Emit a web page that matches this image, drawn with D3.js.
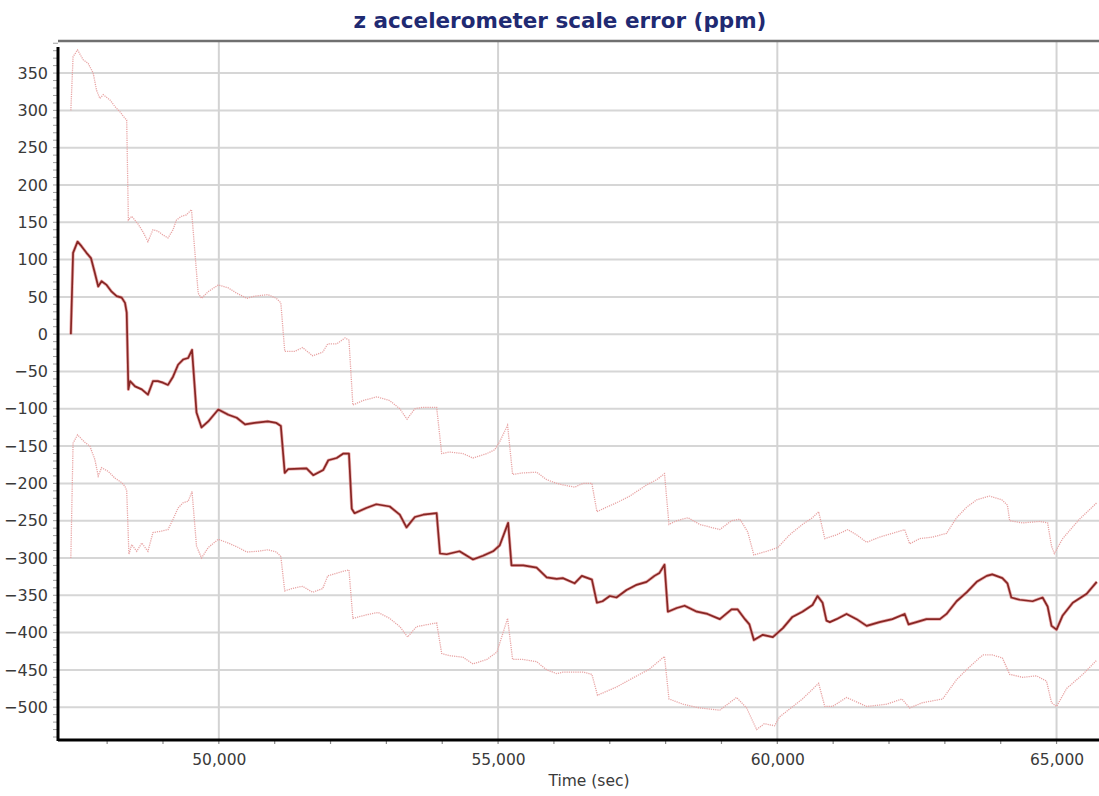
<!DOCTYPE html>
<html>
<head>
<meta charset="utf-8">
<script src="https://cdn.jsdelivr.net/npm/d3@7"></script>
<style>
  html, body { margin: 0; padding: 0; background: #fff; }
  svg { display: block; }
</style>
</head>
<body>
<svg id="chart" width="1099" height="796"></svg>
<script>
// ---------------- DATA ----------------
const titleText = "z accelerometer scale error (ppm)";
const xAxisLabel = "Time (sec)";
const xTickValues = [50000, 55000, 60000, 65000];
const yTickValues = [350, 300, 250, 200, 150, 100, 50, 0, -50, -100, -150, -200, -250, -300, -350, -400, -450, -500];

// estimate (time sec, ppm)
const estimate = [
  [47350,0],[47390,109],[47470,124],[47540,118],[47630,109],[47710,102],[47780,82],[47840,64],[47900,71],[47990,66],
  [48080,57],[48170,51],[48260,49],[48320,42],[48350,29],[48380,-74],[48410,-63],[48500,-70],[48620,-74],[48730,-81],
  [48820,-63],[48910,-63],[49000,-65],[49090,-68],[49180,-57],[49270,-41],[49360,-34],[49450,-32],[49520,-21],[49600,-105],
  [49690,-125],[49810,-117],[49990,-101],[50170,-108],[50320,-112],[50470,-121],[50640,-119],[50880,-117],[51030,-119],[51110,-123],
  [51180,-186],[51240,-181],[51570,-180],[51690,-189],[51870,-182],[51960,-169],[52110,-166],[52230,-160],[52330,-160],[52380,-234],
  [52430,-240],[52640,-233],[52820,-228],[53060,-231],[53240,-242],[53360,-259],[53510,-245],[53660,-242],[53900,-240],[53960,-294],
  [54080,-295],[54310,-291],[54550,-302],[54730,-297],[54910,-291],[55030,-283],[55180,-253],[55240,-310],[55450,-310],[55690,-313],
  [55870,-326],[56050,-328],[56160,-327],[56370,-334],[56500,-324],[56680,-329],[56770,-360],[56870,-358],[57000,-351],[57120,-353],
  [57300,-343],[57480,-336],[57660,-332],[57800,-324],[57890,-320],[57980,-309],[58040,-372],[58200,-367],[58340,-364],[58560,-372],
  [58750,-375],[58970,-382],[59180,-369],[59290,-369],[59420,-382],[59500,-389],[59580,-410],[59740,-403],[59920,-406],[60100,-394],
  [60270,-379],[60450,-372],[60630,-363],[60720,-351],[60810,-360],[60880,-384],[60940,-386],[61060,-382],[61240,-375],[61420,-382],
  [61600,-391],[61830,-386],[62060,-382],[62280,-375],[62350,-389],[62490,-386],[62670,-382],[62910,-382],[63030,-375],[63210,-358],
  [63390,-346],[63570,-332],[63750,-324],[63850,-322],[64030,-327],[64120,-334],[64190,-353],[64340,-356],[64570,-358],[64750,-353],
  [64840,-365],[64910,-391],[65000,-396],[65110,-377],[65290,-360],[65540,-348],[65720,-332]
];

// upper bound (time sec, ppm)
const upperBound = [
  [47350,300],[47390,372],[47470,381],[47570,368],[47660,363],[47750,350],[47810,327],[47870,316],[47930,321],[48050,314],
  [48140,305],[48230,298],[48290,292],[48350,287],[48380,153],[48440,158],[48560,147],[48650,136],[48730,124],[48820,140],
  [48910,138],[49000,133],[49090,129],[49180,140],[49240,153],[49330,158],[49420,160],[49510,167],[49630,55],[49690,48],
  [49810,57],[49990,66],[50170,62],[50320,55],[50500,48],[50640,51],[50880,53],[51030,48],[51110,42],[51180,-23],
  [51360,-23],[51500,-18],[51680,-29],[51860,-24],[51950,-13],[52110,-13],[52260,-5],[52330,-8],[52400,-95],[52580,-89],
  [52830,-84],[53060,-89],[53240,-100],[53370,-114],[53510,-100],[53650,-98],[53900,-98],[53990,-160],[54130,-158],[54370,-160],
  [54550,-166],[54800,-160],[54940,-155],[55030,-144],[55170,-122],[55260,-188],[55440,-186],[55690,-185],[55870,-195],[56050,-200],
  [56160,-202],[56370,-205],[56520,-200],[56680,-200],[56770,-238],[56910,-233],[57120,-226],[57360,-217],[57660,-202],[57840,-195],
  [57980,-187],[58060,-255],[58200,-250],[58400,-246],[58610,-255],[58970,-262],[59180,-250],[59330,-248],[59470,-265],[59580,-296],
  [59810,-291],[60010,-286],[60220,-269],[60450,-255],[60630,-246],[60740,-238],[60850,-274],[61060,-269],[61260,-262],[61420,-269],
  [61600,-279],[61830,-272],[62060,-267],[62280,-262],[62370,-281],[62550,-274],[62780,-272],[63030,-267],[63210,-246],[63390,-232],
  [63570,-222],[63800,-217],[64020,-222],[64120,-229],[64160,-250],[64390,-253],[64700,-251],[64840,-253],[64910,-284],[64960,-294],
  [65110,-274],[65410,-248],[65720,-226]
];

// lower bound (time sec, ppm)
const lowerBound = [
  [47350,-300],[47390,-146],[47470,-135],[47600,-145],[47690,-150],[47780,-168],[47840,-190],[47900,-179],[48020,-184],[48140,-193],
  [48260,-199],[48320,-204],[48350,-210],[48390,-295],[48440,-282],[48530,-291],[48620,-280],[48730,-291],[48820,-266],[48970,-264],
  [49090,-262],[49180,-248],[49270,-233],[49360,-226],[49450,-224],[49520,-211],[49600,-284],[49690,-300],[49810,-286],[49990,-275],
  [50170,-280],[50350,-286],[50500,-292],[50700,-291],[50880,-289],[51030,-292],[51110,-298],[51180,-344],[51360,-340],[51500,-338],
  [51680,-346],[51860,-341],[51950,-324],[52170,-319],[52330,-316],[52400,-381],[52650,-376],[52850,-373],[53060,-381],[53240,-392],
  [53380,-406],[53540,-392],[53900,-387],[53990,-428],[54130,-431],[54370,-433],[54550,-442],[54800,-436],[54980,-426],[55170,-381],
  [55260,-436],[55440,-436],[55690,-439],[55870,-450],[56050,-455],[56160,-453],[56520,-453],[56680,-456],[56780,-484],[57120,-473],
  [57410,-461],[57710,-449],[57980,-432],[58060,-489],[58310,-496],[58610,-501],[58970,-504],[59270,-487],[59450,-501],[59630,-530],
  [59770,-522],[59950,-525],[60040,-513],[60450,-489],[60740,-468],[60850,-499],[60990,-499],[61240,-487],[61600,-499],[61960,-496],
  [62230,-489],[62370,-501],[62600,-494],[62960,-489],[63210,-463],[63440,-446],[63680,-430],[63850,-430],[64030,-434],[64160,-456],
  [64390,-460],[64640,-458],[64820,-465],[64910,-494],[65000,-499],[65180,-475],[65470,-456],[65720,-437]
];

// ---------------- CHART ----------------
const svg = d3.select("#chart");
const mLeft = 58, mRight = 1099, mTop = 41, mBottom = 740;

const x = d3.scaleLinear().domain([47120, 65760]).range([mLeft, mRight]);
const y = d3.scaleLinear().domain([-544, 393]).range([mBottom, mTop]);

const font = "'DejaVu Sans', Verdana, sans-serif";

// title
svg.append("text")
  .attr("x", 560).attr("y", 28)
  .attr("text-anchor", "middle")
  .attr("font-family", font)
  .attr("font-weight", "bold")
  .attr("font-size", 21.5)
  .attr("fill", "#1f2a72")
  .text(titleText);

// gridlines
const grid = svg.append("g");
grid.selectAll("line.h").data(yTickValues).enter().append("line").attr("class", "h")
  .attr("x1", mLeft).attr("x2", mRight)
  .attr("y1", d => y(d)).attr("y2", d => y(d))
  .attr("stroke", "#d6d6d6").attr("stroke-width", 2);
grid.selectAll("line.v").data(xTickValues).enter().append("line").attr("class", "v")
  .attr("x1", d => x(d)).attr("x2", d => x(d))
  .attr("y1", mTop).attr("y2", mBottom)
  .attr("stroke", "#d3d3d3").attr("stroke-width", 2);

// minor ticks: y every 10, x every 1000
const yMinor = d3.range(-540, 391, 10);
const xMinor = d3.range(48000, 65001, 1000);
svg.append("g").selectAll("line").data(yMinor).enter().append("line")
  .attr("x1", mLeft - 5).attr("x2", mLeft)
  .attr("y1", d => y(d)).attr("y2", d => y(d))
  .attr("stroke", "#a0a0a0").attr("stroke-width", 1);
svg.append("g").selectAll("line").data(xMinor).enter().append("line")
  .attr("x1", d => x(d)).attr("x2", d => x(d))
  .attr("y1", mBottom).attr("y2", mBottom + 4)
  .attr("stroke", "#8a8a8a").attr("stroke-width", 1.2);

// series
const line = d3.line().x(d => x(d[0])).y(d => y(d[1]));
svg.append("clipPath").attr("id", "clip").append("rect")
  .attr("x", mLeft).attr("y", mTop).attr("width", mRight - mLeft).attr("height", mBottom - mTop);
const plot = svg.append("g").attr("clip-path", "url(#clip)");

[upperBound, lowerBound].forEach(s => {
  plot.append("path").datum(s)
    .attr("d", line)
    .attr("fill", "none")
    .attr("stroke", "#e8a4a4")
    .attr("stroke-width", 1.3)
    .attr("stroke-dasharray", "1.2,1");
});
plot.append("path").datum(estimate)
  .attr("d", line).attr("fill", "none")
  .attr("stroke", "#d86a6a").attr("stroke-width", 3.2).attr("stroke-opacity", 0.55)
  .attr("stroke-linejoin", "round");
plot.append("path").datum(estimate)
  .attr("d", line).attr("fill", "none")
  .attr("stroke", "#872624").attr("stroke-width", 1.7)
  .attr("stroke-linejoin", "round");

// frame
svg.append("line").attr("x1", mLeft).attr("x2", mRight).attr("y1", mTop).attr("y2", mTop)
  .attr("stroke", "#707070").attr("stroke-width", 2.5);
svg.append("line").attr("x1", mLeft).attr("x2", mLeft).attr("y1", mTop + 6).attr("y2", mBottom + 1)
  .attr("stroke", "#000").attr("stroke-width", 3);
svg.append("line").attr("x1", mLeft).attr("x2", mRight).attr("y1", mBottom).attr("y2", mBottom)
  .attr("stroke", "#000").attr("stroke-width", 3);

// y axis labels
const yAxis = d3.axisLeft(y).tickValues(yTickValues).tickSize(0).tickPadding(0).tickFormat(d3.format("d"));
const gy = svg.append("g").attr("transform", `translate(${mLeft - 10},0)`).call(yAxis);
gy.select(".domain").remove();
gy.selectAll("text").attr("font-family", font).attr("font-size", 16).attr("fill", "#3a3a3a");

// x axis labels
const xAxis = d3.axisBottom(x).tickValues(xTickValues).tickSize(0).tickPadding(0).tickFormat(d3.format(","));
const gx = svg.append("g").attr("transform", `translate(0,${mBottom + 14})`).call(xAxis);
gx.select(".domain").remove();
gx.selectAll("text").attr("font-family", font).attr("font-size", 15.5).attr("fill", "#3a3a3a");

// x axis title
svg.append("text")
  .attr("x", 589).attr("y", 786)
  .attr("text-anchor", "middle")
  .attr("font-family", font)
  .attr("font-size", 15.5)
  .attr("fill", "#3a3a3a")
  .text(xAxisLabel);
</script>
</body>
</html>
